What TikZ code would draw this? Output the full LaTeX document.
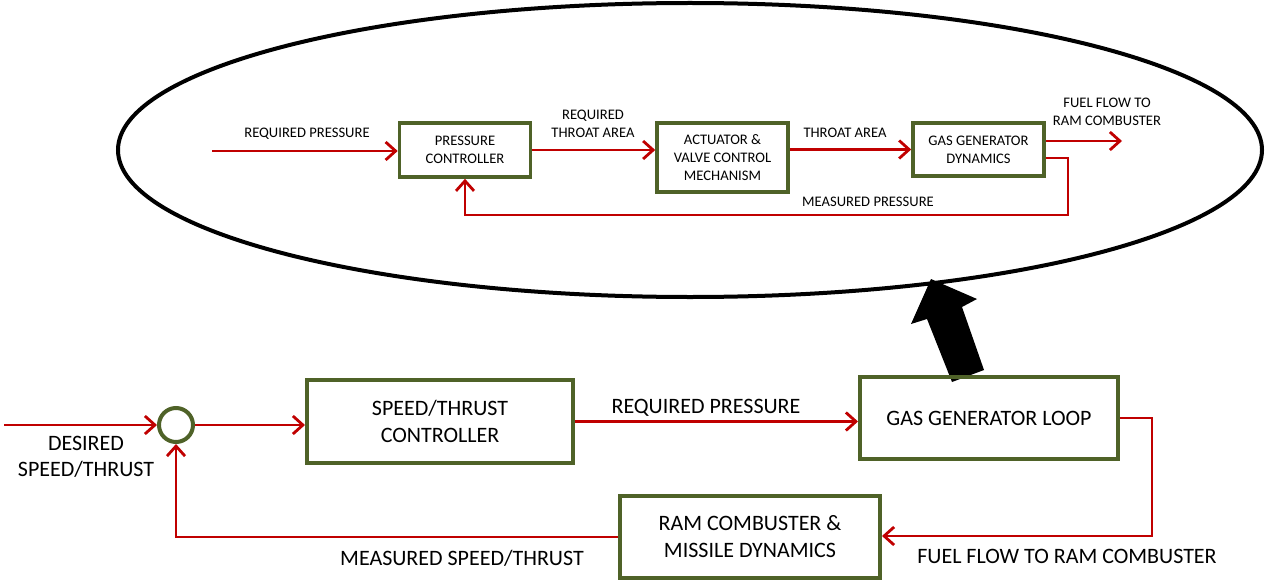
\documentclass[tikz,border=0pt]{standalone}
\usepackage{fontspec}
\setmainfont{Carlito}
\usetikzlibrary{arrows.meta, positioning}
\definecolor{sigred}{RGB}{192,0,0}
\definecolor{boxgreen}{RGB}{79,98,40}

\begin{document}
\begin{tikzpicture}[x=0.5pt, y=-0.5pt,
    blk/.style={draw=boxgreen, line width=2pt, align=center, inner sep=0pt,
        font=\fontsize{11}{13.5}\selectfont},
    sblk/.style={draw=boxgreen, line width=1.8pt, align=center, inner sep=0pt,
        font=\fontsize{7.3}{9}\selectfont},
    sig/.style={draw=sigred, line width=1.4pt,
        -{Straight Barb[length=5pt, width=9pt, line width=1.4pt]}},
    lbl/.style={align=center, inner sep=0pt, font=\fontsize{11}{13}\selectfont},
    slbl/.style={align=center, inner sep=0pt, font=\fontsize{7.3}{9}\selectfont}]
\useasboundingbox (0,0) rectangle (1268,583);

% inner gas generator loop
\draw[line width=2pt] (690,150) ellipse [x radius=286pt, y radius=73.5pt];
\node[sblk, minimum width=65.5pt, minimum height=27pt] (pc) at (465,150) {PRESSURE\\CONTROLLER};
\node[sblk, minimum width=65.5pt, minimum height=34.5pt] (act) at (722.5,157.5) {ACTUATOR \&\\VALVE CONTROL\\MECHANISM};
\node[sblk, minimum width=65.5pt, minimum height=26.5pt] (ggd) at (978.5,149.5) {GAS GENERATOR\\DYNAMICS};
\coordinate (rpin) at (212,151);
\coordinate (fuelout) at (1122,141);
\coordinate (mp) at (1068,215);

\draw[sig] (rpin) -- (rpin -| pc.west);
\draw[sig] (pc.east) -- (pc.east -| act.west);
\draw[sig] (act.east |- ggd.west) -- (ggd.west);
\draw[sig] (ggd.east |- fuelout) -- (fuelout);
\draw[sig] (ggd.east |- 0,158) -- (mp |- 0,158) -- (mp) -| (pc.south);

\node[slbl] (lrp) at (307,134) {REQUIRED PRESSURE};
\node[slbl] (lrta) at (593,124) {REQUIRED\\THROAT AREA};
\node[slbl] (lta) at (845,133) {THROAT AREA};
\node[slbl] (lff) at (1107,112) {FUEL FLOW TO\\RAM COMBUSTER};
\node[slbl] (lmp) at (868,202) {MEASURED PRESSURE};

% big arrow
\fill (931,279) -- (977,299) -- (962,307) -- (984,370) -- (952,382) -- (927,319) -- (911,324) -- cycle;

% outer loop
\node[draw=boxgreen, line width=2pt, circle, minimum size=17pt, inner sep=0pt] (sum) at (176,425) {};
\node[blk, minimum width=133pt, minimum height=41.5pt] (stc) at (440,421.5) {SPEED/THRUST\\CONTROLLER};
\node[blk, minimum width=129pt, minimum height=41pt] (ggl) at (989,418) {GAS GENERATOR LOOP};
\node[blk, minimum width=130pt, minimum height=41pt] (ram) at (750,537) {RAM COMBUSTER \&\\MISSILE DYNAMICS};
\coordinate (din) at (4,425);
\coordinate (ffc) at (1152,536);

\draw[sig] (din) -- (sum);
\draw[sig] (sum) -- (stc.west |- sum);
\draw[sig] (stc.east) -- (stc.east -| ggl.west);
\draw[sig] (ggl.east) -| (ffc) -- (ffc -| ram.east);
\draw[sig] (ram.west) -| (sum.south);

\node[lbl] (ldst) at (86,457) {DESIRED\\SPEED/THRUST};
\node[lbl] (lreq) at (706,408) {REQUIRED PRESSURE};
\node[lbl] (lfuel) at (1067,556) {FUEL FLOW TO RAM COMBUSTER};
\node[lbl] (lmst) at (462,558) {MEASURED SPEED/THRUST};
\end{tikzpicture}
\end{document}
